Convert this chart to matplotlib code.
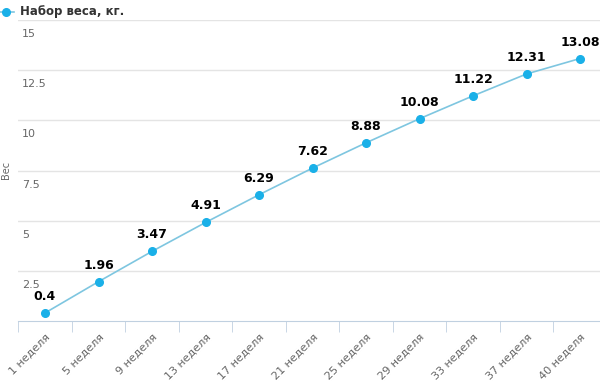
import numpy as np
import matplotlib
matplotlib.use('Agg')
import matplotlib.pyplot as plt
import matplotlib.transforms as mtransforms

weeks = ['1 неделя', '5 неделя', '9 неделя', '13 неделя', '17 неделя', '21 неделя',
         '25 неделя', '29 неделя', '33 неделя', '37 неделя', '40 неделя']
gain = [0.4, 1.96, 3.47, 4.91, 6.29, 7.62, 8.88, 10.08, 11.22, 12.31, 13.08]
yticks = [2.5, 5, 7.5, 10, 12.5, 15]
ytick_labels = ['2.5', '5', '7.5', '10', '12.5', '15']
series_name = 'Набор веса, кг.'

plt.rcParams['font.family'] = ['DejaVu Sans']

fig = plt.figure(figsize=(6, 3.86), dpi=100)
ax = fig.add_axes([18.25 / 600, 1 - 321 / 386, 588.5 / 600, 301 / 386])

x = np.arange(len(weeks))
ax.plot(x, gain, color='#7ec6e0', lw=1.2, zorder=3, clip_on=False)
ax.plot(x, gain, 'o', color='#1ab0e8', ms=5.5, mec='#1ab0e8', zorder=4, clip_on=False)

for xi, v in zip(x, gain):
    ax.annotate(f'{v:g}', (xi, v), xytext=(0, 10), textcoords='offset pixels',
                ha='center', va='bottom', fontsize=9, fontweight='bold', color='black')

ax.set_xlim(-0.5, len(weeks) - 0.5)
ax.set_ylim(0, 15)

for s in ['top', 'right', 'left']:
    ax.spines[s].set_visible(False)
ax.spines['bottom'].set_color('#c0d0e0')

for v in yticks:
    ax.axhline(v, color='#e4e4e4', lw=1, zorder=1)
ax.set_yticks([])

trans = mtransforms.blended_transform_factory(ax.transAxes, ax.transData)
for v, lab in zip(yticks, ytick_labels):
    ax.annotate(lab, (0, v), xycoords=trans, xytext=(4, -9), textcoords='offset pixels',
                ha='left', va='top', fontsize=8, color='#666666')

ax.set_xticks(x)
ax.set_xticklabels(weeks, rotation=45, ha='right', rotation_mode='anchor',
                   fontsize=8, color='#666666')
ax.tick_params(axis='x', which='major', length=0, pad=8)
ax.set_xticks(np.arange(len(weeks)) - 0.5, minor=True)
ax.tick_params(axis='x', which='minor', length=8, color='#c0d0e0')

fig.text(6 / 600, 1 - 170 / 386, 'Вес', rotation=90, ha='center', va='center',
         fontsize=7, color='#666666')

# legend
fig.add_artist(plt.Line2D([0, 14 / 600], [1 - 12 / 386] * 2, color='#7ec6e0', lw=1.2))
fig.add_artist(plt.Line2D([6 / 600], [1 - 12 / 386], marker='o', color='#1ab0e8', ms=5.5))
fig.text(20 / 600, 1 - 12 / 386, series_name, ha='left', va='center',
         fontsize=8.5, fontweight='bold', color='#333333')

fig.savefig('out.png', dpi=100)
